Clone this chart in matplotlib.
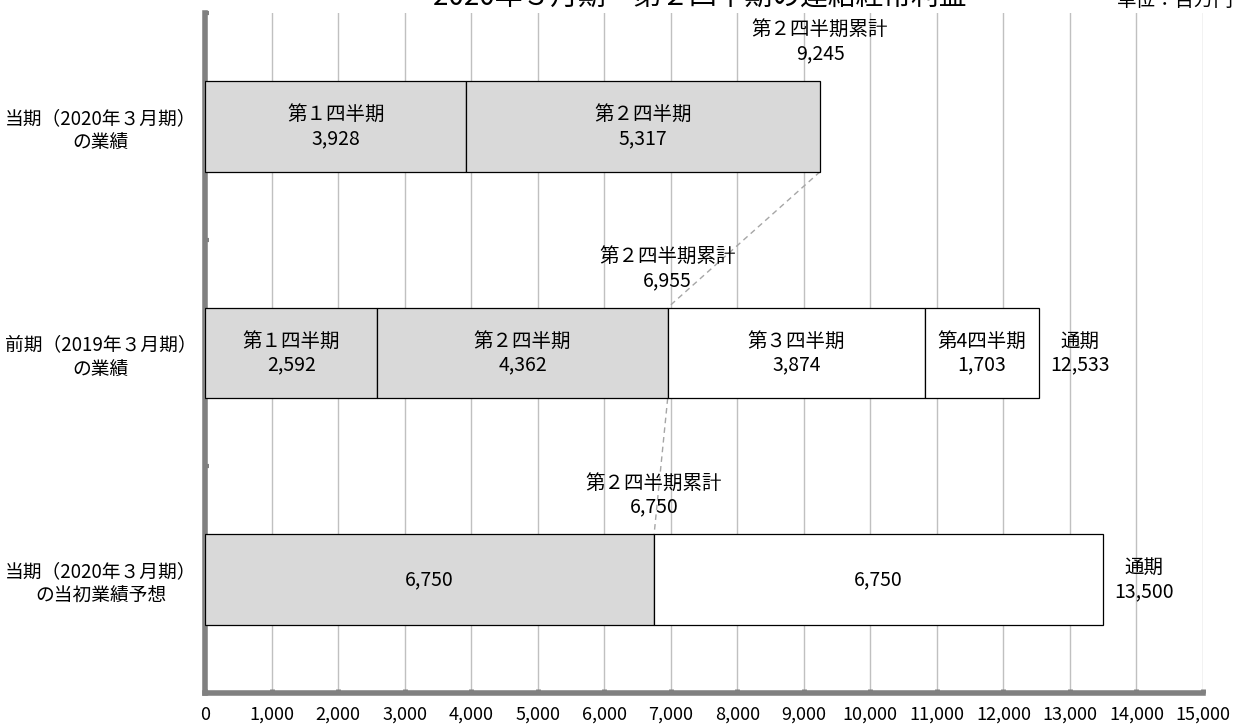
import matplotlib
matplotlib.use("Agg")
import matplotlib.pyplot as plt

plt.rcParams['font.family'] = ['Noto Sans CJK JP', 'DejaVu Sans']

# ---- data ----
categories = ["当期（2020年３月期）\nの業績",
              "前期（2019年３月期）\nの業績",
              "当期（2020年３月期）\nの当初業績予想"]

cur_values = [3928, 5317]
cur_names = ["第１四半期", "第２四半期"]
cur_fill = ["gray", "gray"]

prev_values = [2592, 4362, 3874, 1703]
prev_names = ["第１四半期", "第２四半期", "第３四半期", "第4四半期"]
prev_fill = ["gray", "gray", "white", "white"]

fcst_values = [6750, 6750]
fcst_names = ["", ""]
fcst_fill = ["gray", "white"]

h1_cum_values = [9245, 6954, 6750]
h1_cum_labels = ["9,245", "6,955", "6,750"]
total_labels = [None, "12,533", "13,500"]

x_ticks = list(range(0, 15001, 1000))

title = "2020年３月期　第２四半期の連結経常利益"
unit = "単位：百万円"

# ---- style ----
GRAY_FILL = "#d9d9d9"
AXIS_GRAY = "#808080"
GRID_GRAY = "#c0c0c0"
fills = {"gray": GRAY_FILL, "white": "white"}
BAR_H = 0.40

fig = plt.figure(figsize=(12.35, 7.27), dpi=100)
ax = fig.add_axes([205 / 1235, 1 - 693 / 727, (1203 - 205) / 1235, (693 - 13) / 727])

rows = [(cur_values, cur_names, cur_fill),
        (prev_values, prev_names, prev_fill),
        (fcst_values, fcst_names, fcst_fill)]

for i, (vals, names, fl) in enumerate(rows):
    left = 0
    for v, n, f in zip(vals, names, fl):
        ax.barh(i, v, left=left, height=BAR_H, color=fills[f],
                edgecolor="black", linewidth=0.9, zorder=3)
        lab = f"{v:,}" if n == "" else f"{n}\n{v:,}"
        ax.text(left + v / 2, i, lab, ha="center", va="center",
                fontsize=14, linespacing=1.2, zorder=4)
        left += v
    # first-half cumulative label above bar
    ax.annotate(f"第２四半期累計\n{h1_cum_labels[i]}",
                xy=(h1_cum_values[i], i - BAR_H / 2),
                xytext=(0, 12), textcoords="offset points",
                ha="center", va="bottom", fontsize=14, linespacing=1.2,
                zorder=4)
    if total_labels[i] is not None:
        ax.annotate(f"通期\n{total_labels[i]}", xy=(left, i),
                    xytext=(8, 0), textcoords="offset points",
                    ha="left", va="center", ma="center",
                    fontsize=14, linespacing=1.2, zorder=4)

# dashed connectors between cumulative H1 positions
for i in range(2):
    ax.plot([h1_cum_values[i], h1_cum_values[i + 1]],
            [i + BAR_H / 2, i + 1 - BAR_H / 2],
            color="#a6a6a6", linestyle=(0, (4, 3)), linewidth=1.0, zorder=2)

ax.set_xlim(0, 15000)
ax.set_ylim(2.5, -0.5)

ax.set_xticks(x_ticks)
ax.set_xticklabels([f"{v:,}" for v in x_ticks], fontsize=13)
ax.tick_params(axis="x", direction="in", length=3, width=3.5,
               color=AXIS_GRAY, pad=9)

ax.set_yticks([0, 1, 2])
ax.set_yticklabels(categories, ma="center", fontsize=13.5, linespacing=1.2)
ax.tick_params(axis="y", which="major", length=0, pad=6)
ax.set_yticks([-0.5, 0.5, 1.5, 2.5], minor=True)
ax.tick_params(axis="y", which="minor", direction="in", length=3,
               width=3, color=AXIS_GRAY)

ax.xaxis.grid(True, color=GRID_GRAY, linewidth=1.0, zorder=0)
ax.set_axisbelow(True)

for s in ["top", "right"]:
    ax.spines[s].set_visible(False)
for s in ["left", "bottom"]:
    ax.spines[s].set_color(AXIS_GRAY)
    ax.spines[s].set_linewidth(4)

fig.text(700 / 1235, 1 - 6 / 727, title, ha="center", va="baseline",
         fontsize=20)
fig.text(1117 / 1235, 1 - 6 / 727, unit, ha="left", va="baseline",
         fontsize=14)

fig.savefig("out.png", dpi=100)
